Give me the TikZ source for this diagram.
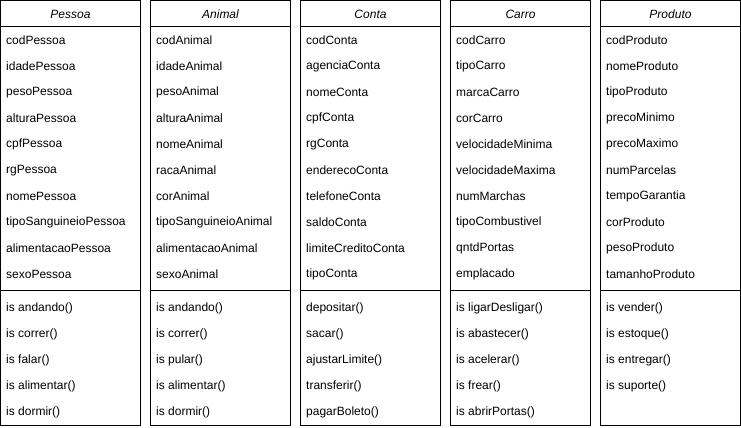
\documentclass[tikz,border=0pt]{standalone}
\usepackage{fontspec}
\setmainfont{Liberation Sans}
\begin{document}
\begin{tikzpicture}[x=1pt,y=-1pt,
  classbox/.style={draw=black, line width=1pt, inner sep=0pt, outer sep=0pt,
    minimum width=140pt, minimum height=425pt, anchor=north west},
  classtitle/.style={inner sep=0pt, font=\fontsize{12pt}{14pt}\selectfont\itshape},
  member/.style={inner sep=0pt, anchor=west, font=\fontsize{12pt}{14pt}\selectfont},
  rule/.style={draw=black, line width=1pt}]
\useasboundingbox (0,0) rectangle (741,428);

% one UML class: name, left x, title, attributes, operations
\newcommand{\umlclass}[5]{%
  \node[classbox] (#1) at (#2,0.5) {};
  \node[classtitle] (#1-title) at ([yshift=-13.5pt]#1.north) {#3};
  \coordinate (#1-hl) at ([yshift=-26pt]#1.north west);
  \coordinate (#1-hr) at ([yshift=-26pt]#1.north east);
  \coordinate (#1-sl) at ([yshift=-290pt]#1.north west);
  \coordinate (#1-sr) at ([yshift=-290pt]#1.north east);
  \draw[rule] (#1-hl) -- (#1-hr);
  \draw[rule] (#1-sl) -- (#1-sr);
  \foreach \t [count=\i] in {#4}
    \node[member] (#1-a\i) at ([xshift=5.5pt, yshift={-(14+26*\i)*1pt}]#1.north west) {\t};
  \foreach \t [count=\i] in {#5}
    \node[member] (#1-m\i) at ([xshift=5.5pt, yshift={-(282+26*\i)*1pt}]#1.north west) {\t};
}

\umlclass{pessoa}{0.5}{Pessoa}
  {codPessoa,idadePessoa,pesoPessoa,alturaPessoa,cpfPessoa,rgPessoa,nomePessoa,tipoSanguineioPessoa,alimentacaoPessoa,sexoPessoa}
  {is andando(),is correr(),is falar(),is alimentar(),is dormir()}

\umlclass{animal}{150.5}{Animal}
  {codAnimal,idadeAnimal,pesoAnimal,alturaAnimal,nomeAnimal,racaAnimal,corAnimal,tipoSanguineioAnimal,alimentacaoAnimal,sexoAnimal}
  {is andando(),is correr(),is pular(),is alimentar(),is dormir()}

\umlclass{conta}{300.5}{Conta}
  {codConta,agenciaConta,nomeConta,cpfConta,rgConta,enderecoConta,telefoneConta,saldoConta,limiteCreditoConta,tipoConta}
  {depositar(),sacar(),ajustarLimite(),transferir(),pagarBoleto()}

\umlclass{carro}{450.5}{Carro}
  {codCarro,tipoCarro,marcaCarro,corCarro,velocidadeMinima,velocidadeMaxima,numMarchas,tipoCombustivel,qntdPortas,emplacado}
  {is ligarDesligar(),is abastecer(),is acelerar(),is frear(),is abrirPortas()}

\umlclass{produto}{600.5}{Produto}
  {codProduto,nomeProduto,tipoProduto,precoMinimo,precoMaximo,numParcelas,tempoGarantia,corProduto,pesoProduto,tamanhoProduto}
  {is vender(),is estoque(),is entregar(),is suporte()}
\end{tikzpicture}
\end{document}
